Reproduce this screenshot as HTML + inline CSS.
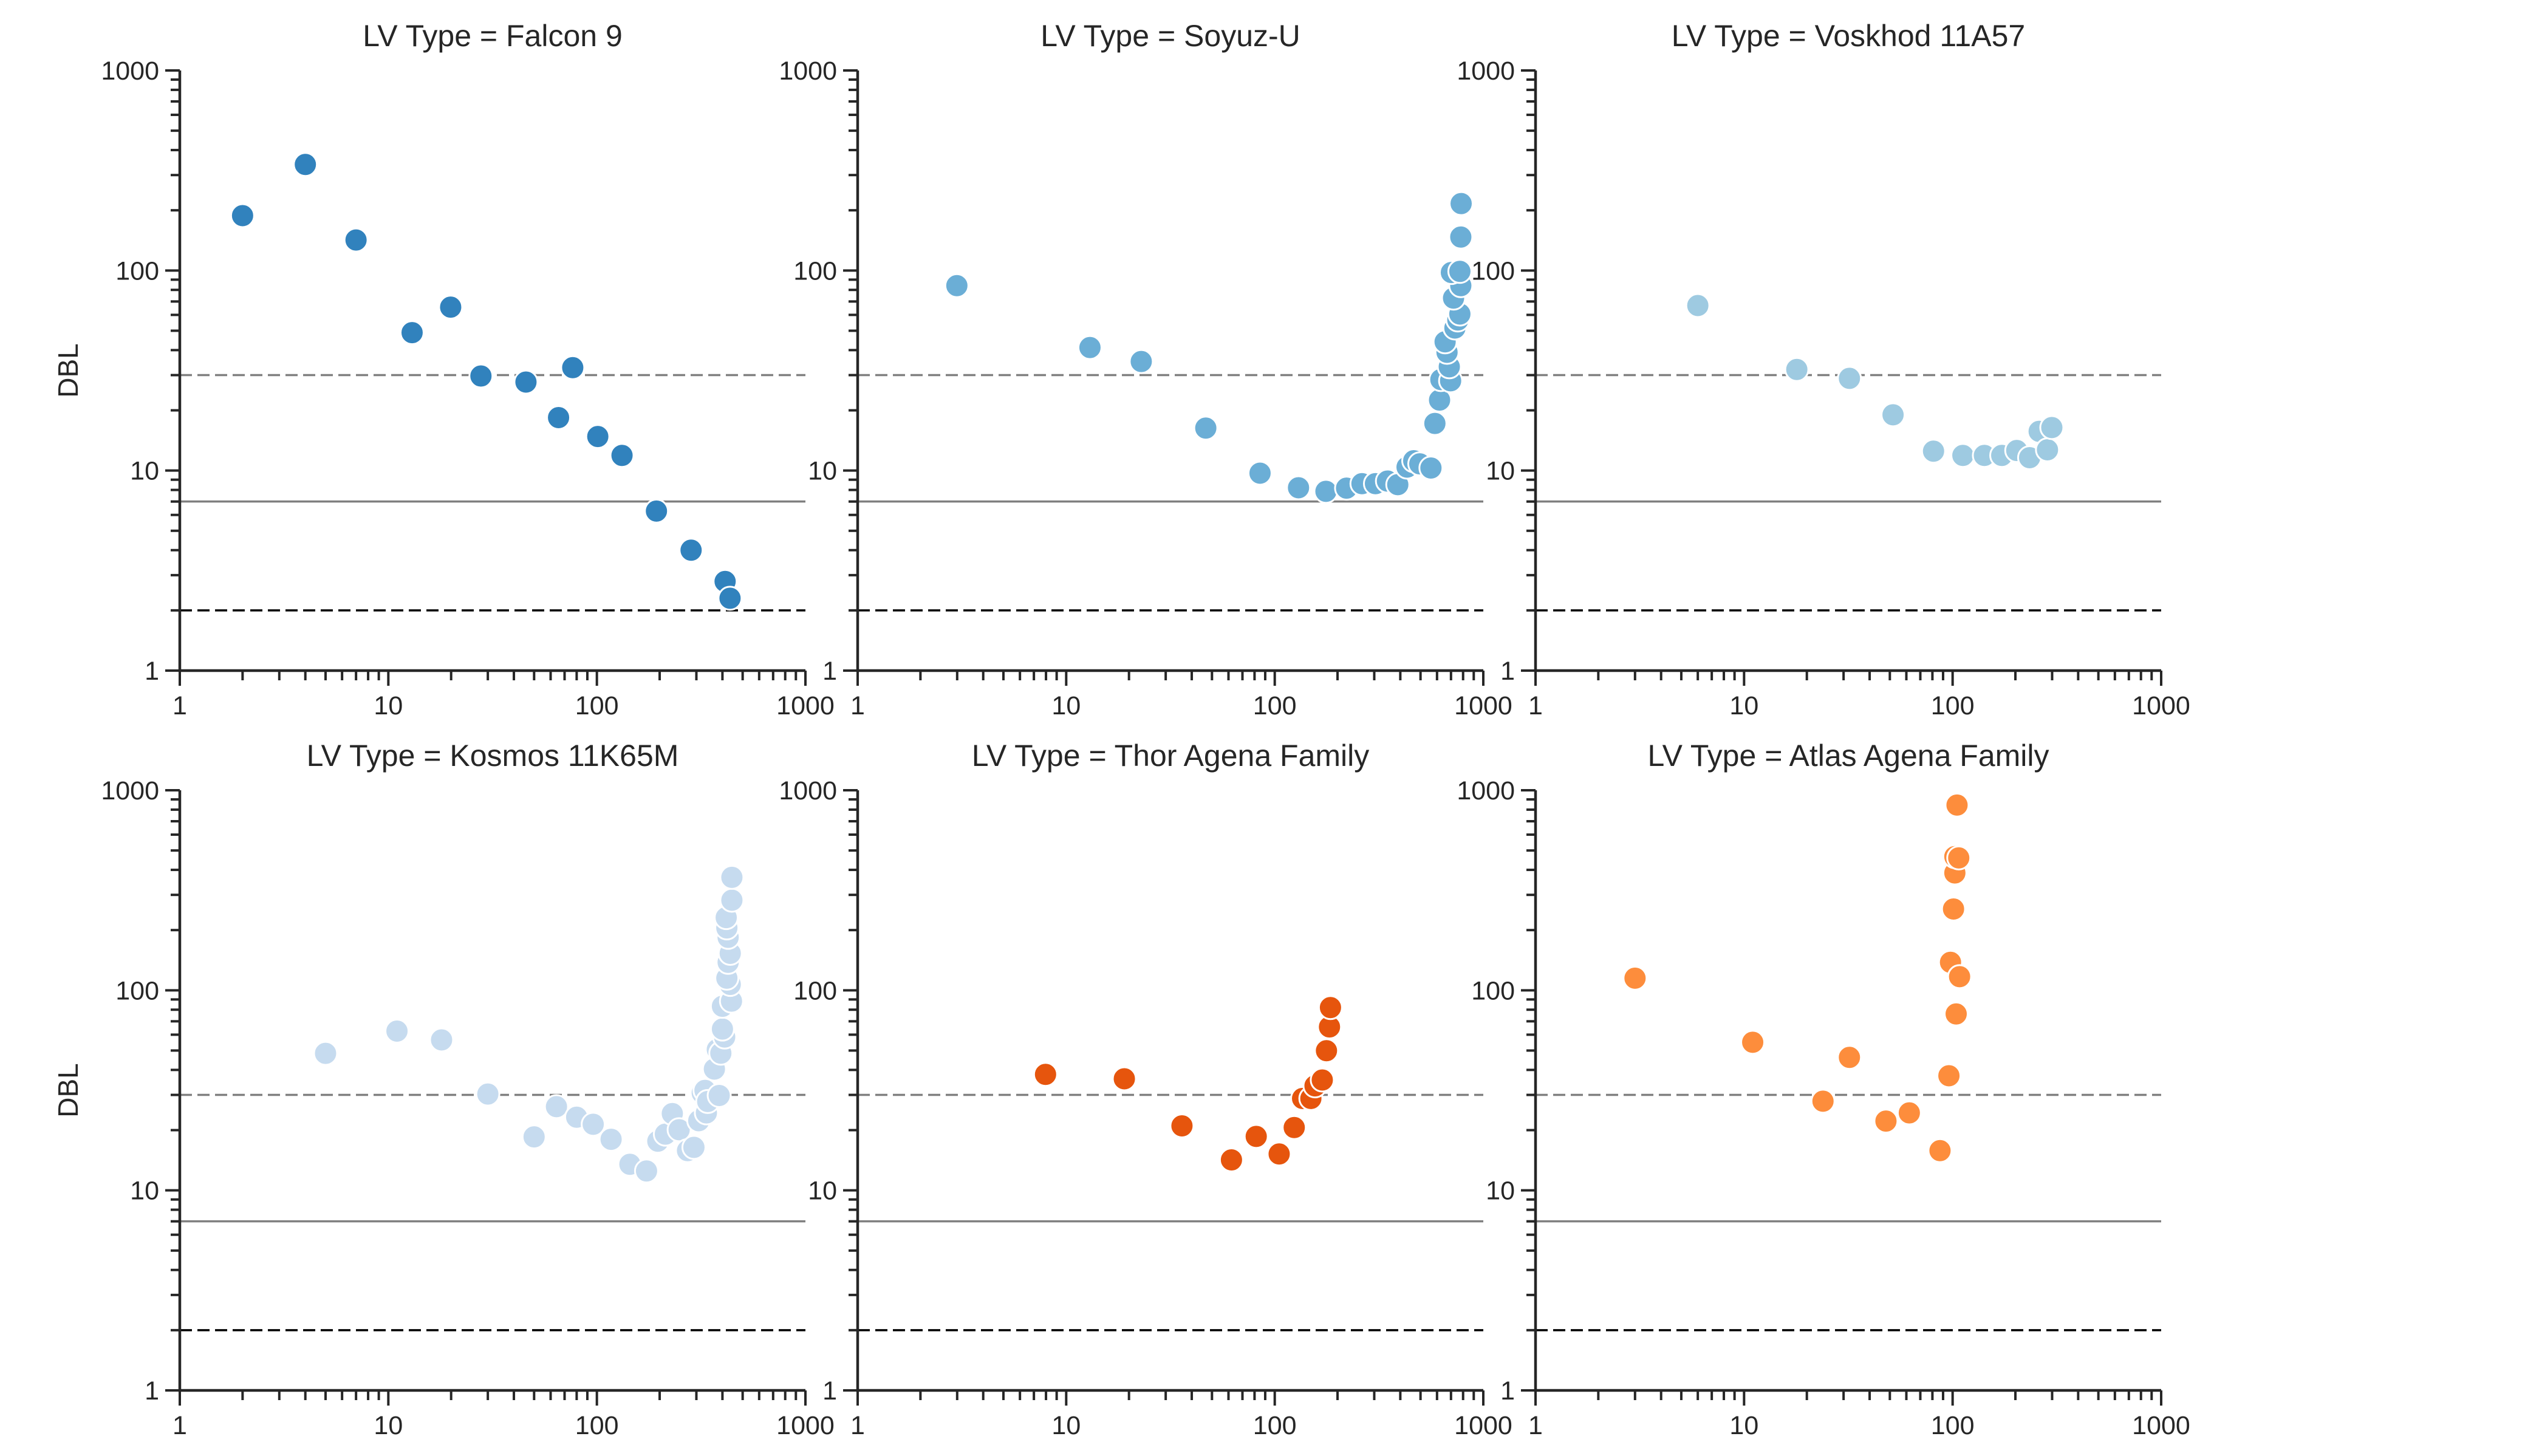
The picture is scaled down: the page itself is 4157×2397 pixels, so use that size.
<!DOCTYPE html>
<html><head><meta charset="utf-8">
<style>
html,body{margin:0;padding:0;background:#fff;}
svg{display:block;font-family:"Liberation Sans",sans-serif;}
</style></head>
<body>
<svg id="fig" width="4157" height="2397" viewBox="0 0 4157 2397" xmlns="http://www.w3.org/2000/svg"></svg>
<script>
const panelTitles = ["LV Type = Falcon 9","LV Type = Soyuz-U","LV Type = Voskhod 11A57","LV Type = Kosmos 11K65M","LV Type = Thor Agena Family","LV Type = Atlas Agena Family"];
const panelColors = ["#3182bd","#6baed6","#9ecae1","#c6dbef","#e6550d","#fd8d3c"];
const xTickLabels = ["1","10","100","1000"];
const yTickLabels = ["1","10","100","1000"];
const refLevels = [30, 7, 2];

const falconX = [2.0,4.0,7.0,13,19.9,27.8,45.7,76.6,65.5,101,132,193,283,412,435];
const falconY = [188,339,142,48.9,65.6,29.7,27.7,32.7,18.4,14.8,11.9,6.27,4.0,2.79,2.30];

const soyuzX = [2.99,13,22.9,46.7,85,130,176,221,262,304,347,389,431,464,496,561,586,617,626,697,687,670,656,731,755,772,720,780,703,772,780,783];
const soyuzY = [84,41.2,35.1,16.3,9.7,8.2,7.87,8.17,8.6,8.6,8.86,8.5,10.4,11.2,10.8,10.3,17.2,22.5,28.5,28.1,33,39,44,51.6,56.6,60.6,72.8,84,97.7,99,147,216];

const voskhodX = [6.0,17.9,32,51.8,81,112,142,172,203,234,260,285,299];
const voskhodY = [66.8,32,28.9,19,12.5,11.9,11.9,11.9,12.6,11.6,15.7,12.7,16.4];

const kosmosX = [5.0,11,18,30,50,64,80,96,117,144,173,196,213,230,248,272,292,308,335,320,330,340,386,366,378,393,410,400,400,442,436,420,426,436,426,420,417,444,444];
const kosmosY = [48.4,62.5,56.5,30.3,18.5,26.2,23.2,21.4,18,13.5,12.5,17.6,19.1,24.2,20.1,15.8,16.4,22.3,24.4,30.7,31.6,27.8,29.8,40.4,50.6,48.5,58.4,64,83.2,88.3,107,115,138,153,184,205,231,282,367];

const thorX = [7.96,19,35.9,62,81.5,105,124,136,149,156,169,177,183,185];
const thorY = [38,36.1,21,14.2,18.6,15.2,20.6,28.8,28.8,33.3,35.6,49.9,65.6,82];

const atlasX = [3.0,11,23.9,32,47.9,62,87,96,97.7,104,108,101,102.5,102.5,107,105];
const atlasY = [115,55,27.9,46.2,22.2,24.4,15.8,37.4,138,76.2,117,255,386,466,459,843];

const panelX = [falconX,soyuzX,voskhodX,kosmosX,thorX,atlasX];
const panelY = [falconY,soyuzY,voskhodY,kosmosY,thorY,atlasY];

const NS = "http://www.w3.org/2000/svg";
const svg = document.getElementById("fig");
const colLeft = [296, 1412, 2528];
const rowTop = [116, 1301];
const PW = 1030, PH = 988;
function mk(tag, attrs, parent){ const e=document.createElementNS(NS,tag); for(const k in attrs) e.setAttribute(k,attrs[k]); (parent||svg).appendChild(e); return e; }

for (let p=0;p<6;p++){
  const c=p%3, r=Math.floor(p/3);
  const L=colLeft[c], T=rowTop[r], R=L+PW, B=T+PH;
  const sx=v=>L+Math.log10(v)/3*PW;
  const sy=v=>B-Math.log10(v)/3*PH;
  const g=mk("g",{});
  
  
  const t=mk("text",{x:(L+R)/2,y:T-40,"text-anchor":"middle","font-size":50,fill:"#262626"},g);
  t.textContent=panelTitles[p];
  
  
  if(c===0){
    const yl=mk("text",{x:0,y:0,"text-anchor":"middle","font-size":46,fill:"#262626",transform:`translate(128,${(T+B)/2}) rotate(-90)`},g);
    yl.textContent="DBL";
    
    
  }
  // reference lines
  const styles=[{s:"#808080",d:"20,9"},{s:"#808080",d:""},{s:"#000",d:"20,9"}];
  refLevels.forEach((lv,i)=>{
    const ln=mk("line",{x1:L,x2:R,y1:sy(lv),y2:sy(lv),stroke:styles[i].s,"stroke-width":3.5,"stroke-dasharray":styles[i].d},g);
    
    
  });
  // ticks
  for(let d=0;d<3;d++){
    for(let m=1;m<=9;m++){
      const v=Math.pow(10,d)*m; if(m===1) continue;
      mk("line",{x1:sx(v),x2:sx(v),y1:B,y2:B+16,stroke:"#262626","stroke-width":4},g);
      mk("line",{x1:L,x2:L-15,y1:sy(v),y2:sy(v),stroke:"#262626","stroke-width":4},g);
    }
  }
  for(let i=0;i<4;i++){
    const v=Math.pow(10,i);
    mk("line",{x1:sx(v),x2:sx(v),y1:B,y2:B+25,stroke:"#262626","stroke-width":4},g);
    mk("line",{x1:L,x2:L-24,y1:sy(v),y2:sy(v),stroke:"#262626","stroke-width":4},g);
    const xt=mk("text",{x:sx(v),y:B+72,"text-anchor":"middle","font-size":43,fill:"#262626"},g);
    xt.textContent=xTickLabels[i];
    
    
    const yt=mk("text",{x:L-34,y:sy(v)+15,"text-anchor":"end","font-size":43,fill:"#262626"},g);
    yt.textContent=yTickLabels[i];
    
    
  }
  const ax=mk("path",{d:`M${L},${T} L${L},${B} L${R},${B}`,fill:"none",stroke:"#262626","stroke-width":4.5},g);
  
  
  const xs=panelX[p], ys=panelY[p];
  for(let i=0;i<xs.length;i++){
    const pt=mk("circle",{cx:sx(xs[i]),cy:sy(ys[i]),r:19,fill:panelColors[p],stroke:"#fff","stroke-width":3},g);
    
    
  }
}
</script>
</body></html>
